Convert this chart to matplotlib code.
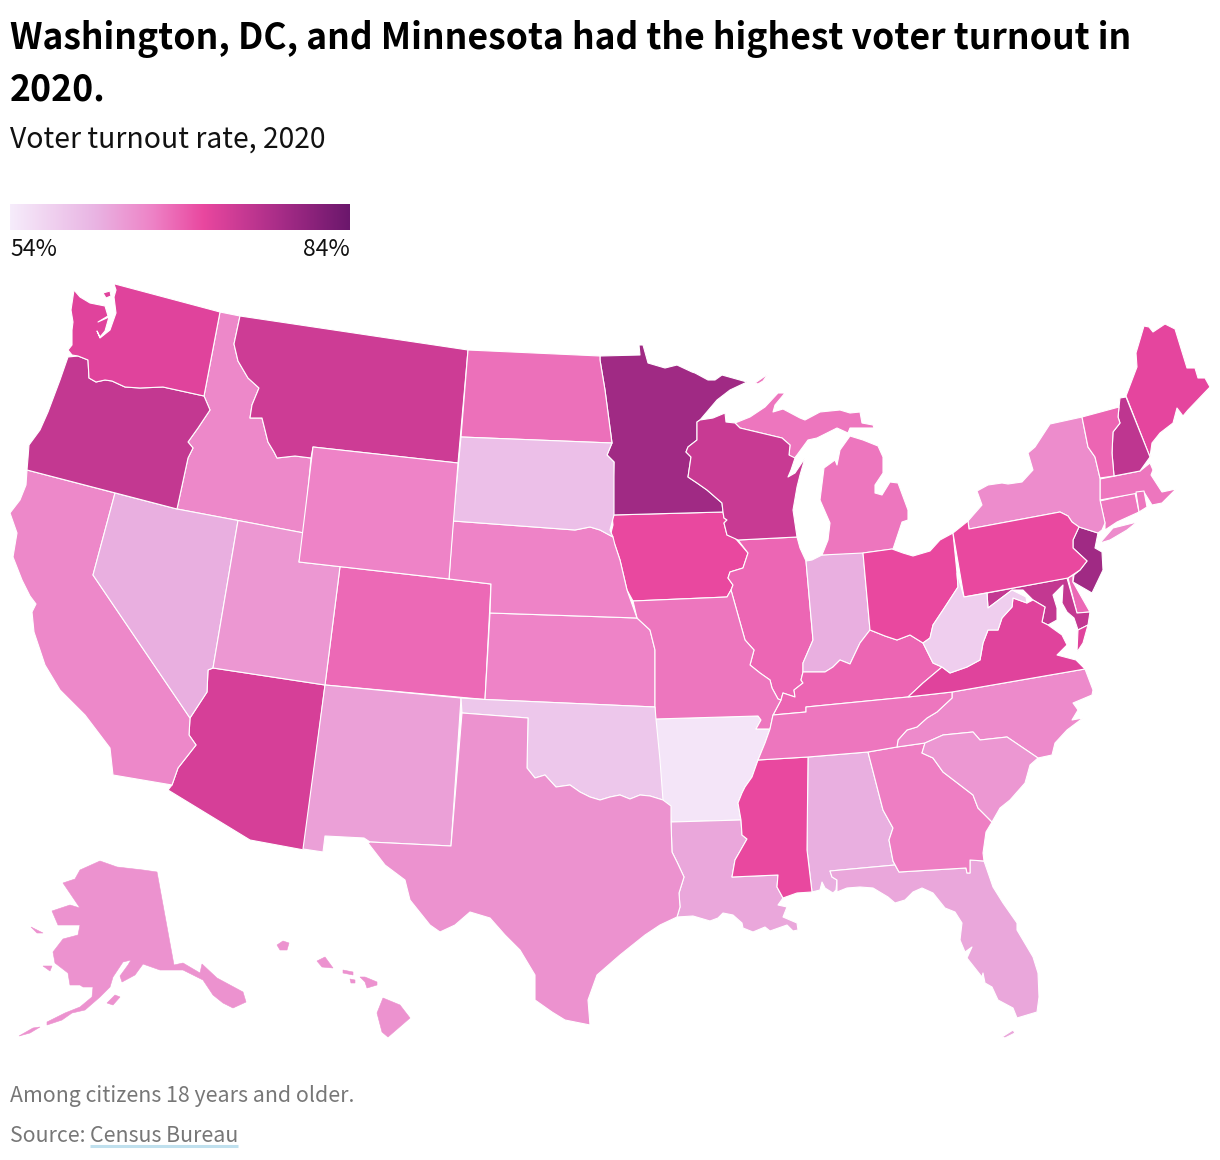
import matplotlib
matplotlib.use("Agg")
import matplotlib.pyplot as plt
import numpy as np
from matplotlib.colors import LinearSegmentedColormap, Normalize
from matplotlib.patches import Polygon

TITLE_LINES = ["Washington, DC, and Minnesota had the highest voter turnout in", "2020."]
SUBTITLE = "Voter turnout rate, 2020"
NOTE = "Among citizens 18 years and older."
SOURCE_PREFIX = "Source: "
SOURCE_LINK = "Census Bureau"
SCALE_MIN = 54
SCALE_MAX = 84

STATES = ["AK","AL","AR","AZ","CA","CO","CT","DC","DE","FL","GA","HI","IA","ID","IL","IN","KS","KY","LA",
          "MA","MD","ME","MI","MN","MO","MS","MT","NC","ND","NE","NH","NJ","NM","NV","NY","OH","OK","OR",
          "PA","RI","SC","SD","TN","TX","UT","VA","VT","WA","WI","WV","WY"]
TURNOUT = [65,62,55,73,66,68.5,67.5,84,68.5,62.8,67,65,71,66,68.7,62,66.5,68.8,62.8,
           67.5,75,71.5,67.5,78.5,67.5,71,74,65.8,68,66.5,75.5,78.5,63.5,62,65.5,71,59,75,
           71,67.5,64.5,60,67.5,65,64.5,72,68.8,72,74.5,58,66.5]

# Map geometry (state outlines on the picture's projected map plane)
OUTLINES = {
"WA":[[(115,284),(220,312),(204,396),(163,387),(140,388),(125,387),(112,381),(105,380),(96,382),(89,378),(88,360),(78,356),(72,355),(68,350),(72,345),(72,330),(73,322),(71,310),(74,290),(80,297),(90,303),(105,306),(108,316),(98,322),(109,317),(105,331),(100,337),(97,331),(100,338),(110,330),(116,313),(114,297),(116,290),(114,284)],
      [(103,293),(110,291),(111,296),(106,298)]],
"OR":[[(78,356),(68,357),(60,380),(48,412),(40,430),(29,445),(28,458),(27,470),(177,509),(188,458),(193,448),(188,442),(198,428),(210,410),(204,396),(163,387),(140,388),(125,387),(112,381),(105,380),(96,382),(89,378),(88,360)]],
"CA":[[(27,470),(115,493),(93,575),(190,718),(189,735),(196,745),(178,768),(172,785),(113,775),(110,748),(85,715),(60,690),(45,665),(34,632),(32,612),(36,604),(30,596),(22,580),(13,557),(17,533),(10,513),(20,500),(26,485)]],
"NV":[[(115,493),(177,509),(238,520.5),(213,668),(208,670),(207,692),(190,718),(93,575)]],
"ID":[[(220,312),(240,316),(234,344),(238,361),(248,378),(259,388),(252,405),(250,418),(262,418),(268,442),(274,452),(277,458),(295,456),(311,458),(304,533),(238,520.5),(177,509),(188,458),(193,448),(188,442),(198,428),(210,410),(204,396)]],
"MT":[[(240,316),(468,350),(458,463),(313,447),(311,458),(295,456),(277,458),(274,452),(268,442),(262,418),(250,418),(252,405),(259,388),(248,378),(238,361),(234,344)]],
"WY":[[(313,447),(458,463),(449,579),(299,562)]],
"UT":[[(238,520.5),(304,533),(299,562),(340,566.6),(325,685),(213,668)]],
"AZ":[[(213,668),(325,685),(304,850),(250,840),(168,790),(172,785),(178,768),(196,745),(189,735),(190,718),(207,692),(208,670)]],
"CO":[[(340,566.6),(449,579),(491,584),(485,699.5),(325,685)]],
"NM":[[(325,685),(461,698),(451,846),(370,842),(364,838),(325,836),(323,852),(303,849)]],
"ND":[[(468,350),(600,356),(600,360),(605,390),(612,443),(461,437)]],
"SD":[[(461,437),(612,443),(607,455),(614,462),(614,515),(610,530),(613,537),(600,530),(590,527),(575,530),(453,521)]],
"NE":[[(453,521),(575,530),(590,527),(600,530),(613,537),(615,545),(620,560),(627,590),(637,618),(490,613),(491,584),(449,579)]],
"KS":[[(490,613),(637,618),(650,630),(655,650),(655,707),(485,699.5)]],
"OK":[[(461,698),(485,699.5),(655,707),(656,719),(660,760),(663,800),(650,796),(640,795),(630,799),(620,795),(610,797),(600,800),(590,797),(580,792),(570,785),(556,787),(545,775),(535,778),(527,768),(528,718),(462,713)]],
"TX":[[(462,713),(528,718),(527,768),(535,778),(545,775),(556,787),(570,785),(580,792),(590,797),(600,800),(610,797),(620,795),(630,799),(640,795),(650,796),(663,800),(671,806),(671,822),(672,852),(677,862),(684,877),(679,893),(680,907),(677,917),(660,925),(645,935),(620,955),(597,975),(588,1000),(590,1025),(565,1020),(552,1012),(535,1000),(535,975),(520,950),(505,935),(490,918),(470,912),(455,925),(440,932),(430,925),(410,900),(405,880),(385,865),(368,843),(370,842),(451,846)]],
"MN":[[(600,356),(640,355),(639,345),(643,345),(648,363),(665,368),(677,365),(692,372),(695,373),(708,380),(715,380),(722,375),(747,382),(730,390),(717,400),(700,420),(697,422),(697,440),(688,447),(686,452),(691,457),(688,477),(697,483),(707,490),(722,503),(723,512),(612,515),(614,462),(607,455),(612,443),(605,390),(600,360)]],
"IA":[[(612,515),(723,512),(724,518),(727,520),(724,523),(727,535),(735,538),(748,553),(743,568),(730,572),(728,578),(733,585),(731,590),(727,597),(633,601),(627,590),(620,560),(615,545),(610,537),(613,525)]],
"MO":[[(633,601),(727,597),(731,590),(745,640),(754,650),(750,665),(760,673),(770,680),(772,688),(778,699),(781,700),(773,715),(770,729),(756,729),(761,720),(758,716),(655,719),(655,650),(650,630),(637,618)]],
"AR":[[(655,719),(758,716),(761,720),(756,729),(770,729),(765,743),(758,760),(752,777),(745,787),(742,793),(738,803),(741,820),(671,822),(670,806),(660,804),(659,770)]],
"LA":[[(671,822),(741,820),(742,835),(747,839),(735,860),(732,877),(778,875),(777,887),(783,898),(778,905),(787,907),(783,917),(797,923),(798,930),(793,931),(787,925),(770,931),(765,927),(753,932),(743,928),(742,923),(733,915),(723,913),(718,918),(710,921),(693,916),(677,917),(680,907),(679,893),(684,877),(677,862),(672,852)]],
"WI":[[(700,420),(713,418),(725,413),(726,422),(735,423),(740,428),(782,438),(790,445),(789,455),(795,458),(791,470),(788,477),(795,473),(805,458),(800,475),(797,487),(793,510),(797,537),(738,540),(727,535),(724,523),(727,520),(724,518),(723,512),(722,503),(707,490),(697,483),(688,477),(691,457),(686,452),(688,447),(697,440),(697,422)]],
"IL":[[(738,540),(797,537),(800,548),(806,561),(813,640),(803,663),(803,672),(801,680),(803,683),(794,690),(795,697),(783,693),(781,700),(778,699),(772,688),(770,680),(760,673),(750,665),(754,650),(745,640),(731,590),(733,585),(728,578),(730,572),(743,568),(748,553)]],
"IN":[[(806,561),(812,560),(822,555),(863,552),(870,630),(860,643),(850,664),(840,660),(833,667),(825,672),(803,672),(803,663),(813,640)]],
"MI":[[(735,423),(750,417),(765,407),(778,393),(785,393),(775,405),(773,412),(783,409),(800,418),(805,420),(820,412),(840,410),(850,413),(860,412),(862,423),(873,425),(874,428),(850,428),(848,433),(837,428),(817,438),(808,440),(797,455),(793,460),(789,455),(790,445),(782,438),(740,428)],
      [(850,436),(863,440),(878,446),(883,457),(883,473),(875,485),(875,493),(882,495),(890,482),(898,483),(908,510),(908,520),(902,522),(893,549),(863,553),(822,555),(828,540),(830,523),(820,500),(824,468),(835,460),(837,465),(840,450)],
      [(755,383),(768,374),(763,381),(758,384)]],
"OH":[[(863,553),(892,549),(903,553),(913,556),(930,551),(940,540),(953,533),(957,573),(958,587),(943,610),(933,625),(930,638),(923,643),(910,635),(897,640),(885,636),(870,630)]],
"KY":[[(870,630),(885,636),(897,640),(910,635),(923,643),(933,663),(942,667),(923,683),(908,697),(806,707),(806,712),(773,715),(781,700),(783,693),(795,697),(794,690),(803,683),(801,680),(803,672),(825,672),(833,667),(840,660),(850,664),(860,643)]],
"TN":[[(773,715),(806,712),(806,707),(908,697),(952,692),(952,698),(937,712),(927,718),(917,727),(907,730),(898,740),(897,747),(868,752),(808,757),(758,760),(765,743),(770,729)]],
"MS":[[(758,760),(808,757),(807,850),(812,892),(797,893),(783,898),(777,887),(778,875),(732,877),(735,860),(747,839),(742,835),(741,820),(738,803),(742,793),(745,787),(752,777)]],
"AL":[[(808,757),(868,752),(883,810),(893,828),(889,840),(893,861),(895,865),(830,871),(832,877),(837,880),(836,890),(833,893),(825,888),(822,882),(820,890),(812,892),(807,850)]],
"GA":[[(868,752),(897,747),(925,743),(922,753),(933,758),(943,772),(960,785),(973,795),(978,808),(985,815),(992,822),(986,832),(983,853),(984,861),(970,860),(970,873),(967,873),(966,868),(899,872),(893,861),(889,840),(893,828),(883,810)]],
"FL":[[(830,871),(895,865),(899,872),(966,868),(967,873),(970,873),(970,860),(984,861),(993,887),(1003,903),(1017,923),(1017,930),(1033,957),(1038,973),(1039,997),(1037,1012),(1017,1018),(1013,1008),(998,1000),(992,987),(985,983),(983,973),(982,977),(967,958),(972,947),(965,952),(960,940),(962,923),(955,912),(945,908),(933,893),(922,888),(913,892),(905,900),(895,903),(888,897),(873,888),(860,887),(847,888),(837,892),(837,880),(832,877)],
      [(1002,1037),(1013,1030),(1015,1033),(1005,1038)]],
"SC":[[(925,743),(943,735),(973,732),(980,740),(1007,737),(1038,758),(1030,765),(1025,783),(1010,800),(1000,808),(992,822),(985,815),(978,808),(973,795),(960,785),(943,772),(933,758),(922,753)]],
"NC":[[(952,692),(1085,669),(1093,690),(1092,695),(1073,703),(1078,710),(1072,720),(1083,718),(1067,730),(1055,743),(1052,755),(1038,758),(1007,737),(980,740),(973,732),(943,735),(925,743),(897,747),(898,740),(907,730),(917,727),(927,718),(937,712),(952,698)]],
"VA":[[(908,697),(923,683),(942,667),(950,673),(967,667),(980,660),(983,643),(988,630),(998,630),(1002,618),(1012,607),(1013,598),(1027,603),(1033,600),(1045,607),(1042,622),(1048,625),(1062,635),(1067,645),(1057,655),(1076,660),(1085,669),(952,692)],
      [(1077,652),(1078,630),(1088,625),(1083,643)]],
"WV":[[(923,643),(930,638),(933,625),(943,610),(958,587),(957,573),(964,597),(987,593),(988,608),(1012,590),(1026,597),(1027,603),(1013,598),(1012,607),(1002,618),(998,630),(988,630),(983,643),(980,660),(967,667),(950,673),(942,667),(933,663)]],
"PA":[[(953,533),(968,521),(969,529),(1060,512),(1068,516),(1072,522),(1079,527),(1073,540),(1073,548),(1087,561),(1080,570),(1068,578),(964,597)]],
"NY":[[(968,521),(982,505),(977,491),(988,485),(1002,483),(1008,484),(1022,482),(1033,470),(1028,453),(1035,447),(1050,424),(1082,417),(1088,447),(1095,457),(1100,478),(1100,500),(1105,523),(1102,530),(1098,533),(1079,527),(1072,522),(1068,516),(1060,512),(969,529)],
      [(1100,543),(1113,528),(1137,522),(1127,530),(1110,540)]],
"NJ":[[(1079,527),(1098,533),(1095,548),(1102,552),(1103,570),(1092,593),(1073,582),(1074,575),(1080,570),(1087,561),(1073,548),(1073,540)]],
"DE":[[(1068,578),(1073,575),(1073,582),(1090,612),(1077,613)]],
"MD":[[(987,593),(1067,578),(1077,613),(1090,612),(1088,625),(1078,630),(1074,618),(1067,612),(1062,603),(1063,585),(1053,595),(1057,608),(1057,620),(1048,625),(1042,622),(1045,607),(1033,600),(1023,590),(1012,590),(988,608)]],
"DC":[[(1042,606),(1045,604),(1047,607),(1045,609)]],
"VT":[[(1082,417),(1119,407),(1118,417),(1120,423),(1113,432),(1112,453),(1114,476),(1100,478),(1095,457),(1088,447)]],
"NH":[[(1120,398),(1126,397),(1150,457),(1140,471),(1114,476),(1112,453),(1113,432),(1120,423),(1118,417),(1119,407)]],
"ME":[[(1126,396),(1137,367),(1136,353),(1144,326),(1149,327),(1153,332),(1165,324),(1175,329),(1187,368),(1195,368),(1198,378),(1205,378),(1210,387),(1188,410),(1183,416),(1177,408),(1173,423),(1160,433),(1152,443),(1150,457)]],
"MA":[[(1100,479),(1140,471),(1150,463),(1153,470),(1151,475),(1162,492),(1176,489),(1162,503),(1152,505),(1144,492),(1100,500)]],
"CT":[[(1100,501),(1135,493),(1139,512),(1117,522),(1105,530),(1105,523)]],
"RI":[[(1136,492),(1144,491),(1147,507),(1139,512)]],
"AK":[[(157,872),(174,965),(183,963),(200,973),(202,964),(217,978),(243,992),(246,1002),(233,1008),(223,1003),(213,995),(203,980),(183,970),(160,970),(143,964),(135,975),(122,982),(120,976),(128,965),(131,960),(123,962),(113,977),(110,987),(100,997),(85,1010),(72,1013),(62,1020),(47,1025),(47,1022),(65,1013),(80,1007),(92,997),(93,987),(83,987),(80,985),(70,985),(68,973),(55,963),(53,952),(63,939),(78,935),(80,925),(58,925),(52,911),(70,905),(80,908),(63,883),(75,879),(80,870),(100,861),(117,867),(143,870)],
      [(31,927),(43,933),(37,933)],[(43,966),(52,966),(50,971)],[(107,1003),(115,995),(120,997),(113,1005)],[(19,1036),(33,1028),(40,1027),(30,1033)]],
"HI":[[(277,945),(283,941),(289,943),(287,950),(280,950)],[(317,961),(325,957),(333,968),(322,967)],[(343,970),(353,972),(353,975),(343,973)],[(350,979),(355,980),(355,983),(351,983)],[(360,977),(365,977),(377,982),(377,985),(367,988),(365,982)],[(383,998),(400,1005),(410,1018),(388,1037),(382,1032),(377,1013)]],
}

CMAP_STOPS = [(0.0,"#f6ecfb"),(0.25,"#e9b4e3"),(0.42,"#ee82c6"),(0.57,"#e9479f"),(0.8,"#a62c87"),(1.0,"#6b176c")]
cmap = LinearSegmentedColormap.from_list("turnout", CMAP_STOPS)
norm = Normalize(SCALE_MIN, SCALE_MAX)

fig = plt.figure(figsize=(12.2, 11.6), dpi=100)
ax = fig.add_axes([0, 0, 1, 1])
ax.set_xlim(0, 1220)
ax.set_ylim(1160, 0)
ax.axis("off")

for st, val in zip(STATES, TURNOUT):
    col = cmap(norm(val))
    for ring in OUTLINES[st]:
        if st in ("AK", "HI"):
            ax.add_patch(Polygon(ring, closed=True, facecolor=col, edgecolor=col, linewidth=0.4))
        else:
            ax.add_patch(Polygon(ring, closed=True, facecolor=col, edgecolor="white", linewidth=0.8, joinstyle="round"))

FONT = "Noto Sans CJK SC"
ax.text(10, 39.5, TITLE_LINES[0], fontsize=25.6, fontweight="bold", family=FONT, va="center", color="black")
ax.text(10, 90, TITLE_LINES[1], fontsize=25.6, fontweight="bold", family=FONT, va="center", color="black")
ax.text(10, 140, SUBTITLE, fontsize=20.4, family=FONT, va="center", color="#111111")

grad = np.linspace(0, 1, 256).reshape(1, -1)
ax.imshow(grad, cmap=cmap, extent=(10, 350, 230, 204), aspect="auto", zorder=2)
ax.set_xlim(0, 1220)
ax.set_ylim(1160, 0)
ax.text(10, 250, f"{SCALE_MIN}%", fontsize=16.6, family=FONT, va="center", color="#111111")
ax.text(350, 250, f"{SCALE_MAX}%", fontsize=16.6, family=FONT, va="center", ha="right", color="#111111")

ax.text(10, 1096, NOTE, fontsize=15.35, family=FONT, va="center", color="#777777")
ax.text(10, 1136, SOURCE_PREFIX, fontsize=15.35, family=FONT, va="center", color="#777777")
ax.text(90, 1136, SOURCE_LINK, fontsize=15.35, family=FONT, va="center", color="#777777")
ax.plot([90, 238], [1145.5, 1145.5], color="#bfe0ee", lw=2.2, solid_capstyle="butt")

fig.savefig("out.png", dpi=100, facecolor="white")
